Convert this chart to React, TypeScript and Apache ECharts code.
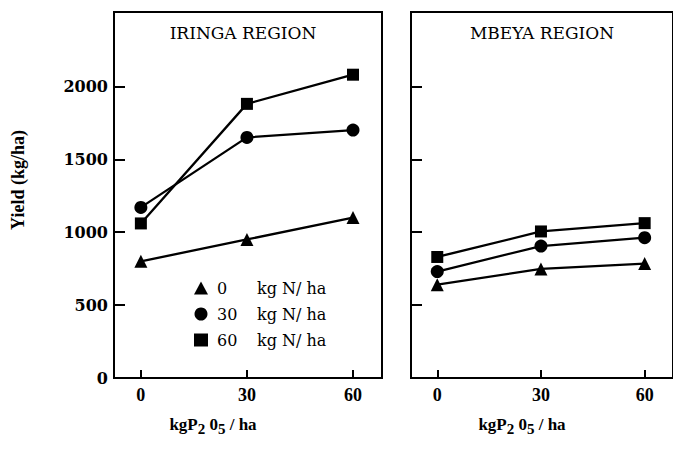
import React, { useEffect, useRef } from "react";
import * as echarts from "echarts";

const xTicks = [0, 30, 60];
const yTicks = [0, 500, 1000, 1500, 2000];
const seriesNames = ["0 N", "30 N", "60 N"];
const legendNumbers = ["0", "30", "60"];
const symbols = ["triangle", "circle", "rect"];
const iringa0 = [800, 950, 1100];
const iringa30 = [1170, 1650, 1700];
const iringa60 = [1060, 1880, 2080];
const mbeya0 = [640, 748, 785];
const mbeya30 = [730, 905, 962];
const mbeya60 = [830, 1005, 1062];
const panelTitles = ["IRINGA REGION", "MBEYA REGION"];

const FONT = "Liberation Serif";
const WIDE = "DejaVu Serif";

export default function App() {
  const ref = useRef<HTMLDivElement>(null);
  useEffect(() => {
    if (!ref.current) return;
    const chart = echarts.init(ref.current, null, { renderer: "svg" });
    const panels = [
      [iringa0, iringa30, iringa60],
      [mbeya0, mbeya30, mbeya60],
    ];
    const series: any[] = [];
    panels.forEach((p, pi) => {
      p.forEach((vals, si) => {
        series.push({
          type: "line",
          name: seriesNames[si],
          xAxisIndex: pi,
          yAxisIndex: pi,
          data: vals.map((v, i) => [xTicks[i], v]),
          symbol: symbols[si],
          symbolSize: si === 2 ? 12 : 13,
          lineStyle: { color: "#000", width: 2.3 },
          itemStyle: { color: "#000" },
          z: 3 + si,
        });
      });
    });
    const xAxisBase = (gi: number) => ({
      type: "value",
      gridIndex: gi,
      min: -7.6,
      max: 68.2,
      splitLine: { show: false },
      axisLine: { show: true, onZero: false, lineStyle: { color: "#000", width: 2 } },
      axisTick: {
        show: true,
        inside: true,
        length: 8,
        customValues: xTicks,
        lineStyle: { color: "#000", width: 2 },
      },
      axisLabel: {
        customValues: xTicks,
        formatter: (v: number) => String(v),
        color: "#000",
        fontFamily: FONT,
        fontSize: 18,
        fontWeight: "bold",
        margin: 8,
      },
    });
    const yAxisBase = (gi: number) => ({
      type: "value",
      gridIndex: gi,
      min: 0,
      max: 2510,
      splitLine: { show: false },
      axisLine: { show: true, onZero: false, lineStyle: { color: "#000", width: 2 } },
      axisTick: {
        show: true,
        inside: true,
        length: 11,
        customValues: yTicks.slice(1),
        lineStyle: { color: "#000", width: 2 },
      },
      axisLabel: {
        show: gi === 0,
        customValues: yTicks,
        formatter: (v: number) => String(v),
        color: "#000",
        fontFamily: WIDE,
        fontSize: 16,
        fontWeight: "bold",
        margin: 6,
      },
    });
    chart.setOption({
      animation: false,
      backgroundColor: "#fff",
      grid: [
        { left: 114, top: 12, width: 268, height: 366, show: true, borderColor: "#000", borderWidth: 2, containLabel: false },
        { left: 411, top: 12, width: 270, height: 366, show: true, borderColor: "#000", borderWidth: 2, containLabel: false },
      ],
      xAxis: [xAxisBase(0), xAxisBase(1)],
      yAxis: [yAxisBase(0), yAxisBase(1)],
      legend: {
        data: seriesNames.map((n, i) => ({ name: n, icon: symbols[i] })),
        orient: "vertical",
        left: 189,
        top: 275,
        itemWidth: 14,
        itemHeight: 13,
        itemGap: 10,
        selectedMode: false,
        formatter: (name: string) => {
          const i = seriesNames.indexOf(name);
          return `{n|${legendNumbers[i]}}{u|kg N/ ha}`;
        },
        textStyle: {
          color: "#000",
          fontFamily: WIDE,
          fontSize: 16,
          rich: {
            n: { width: 40, fontFamily: WIDE, fontSize: 16, color: "#000", padding: [0, 0, 0, 4] },
            u: { fontFamily: WIDE, fontSize: 16, color: "#000" },
          },
        },
      },
      graphic: [
        {
          type: "text",
          x: 243,
          y: 33,
          style: { text: panelTitles[0], fontFamily: WIDE, fontSize: 17, fill: "#000", align: "center", verticalAlign: "middle" },
        },
        {
          type: "text",
          x: 542,
          y: 33,
          style: { text: panelTitles[1], fontFamily: WIDE, fontSize: 17, fill: "#000", align: "center", verticalAlign: "middle" },
        },
        {
          type: "text",
          x: 18,
          y: 180,
          rotation: Math.PI / 2,
          style: {
            text: "Yield (kg/ha)",
            fontFamily: FONT,
            fontSize: 18,
            fontWeight: "bold",
            fill: "#000",
            align: "center",
            verticalAlign: "middle",
          },
        },
        ...[213, 522].map((cx) => ({
          type: "text",
          x: cx,
          y: 424,
          style: {
            text: "{a|kgP}{s|2}{a| 0}{s|5}{a| / ha}",
            align: "center",
            verticalAlign: "middle",
            fill: "#000",
            rich: {
              a: { fontFamily: FONT, fontSize: 17, fontWeight: "bold", fill: "#000" },
              s: { fontFamily: FONT, fontSize: 15, fontWeight: "bold", fill: "#000", padding: [10, 0, 0, 0] },
            },
          },
        })),
      ],
      series,
    });
    return () => chart.dispose();
  }, []);
  return <div ref={ref} style={{ width: 673, height: 453, position: "absolute", left: 0, top: 0 }} />;
}
